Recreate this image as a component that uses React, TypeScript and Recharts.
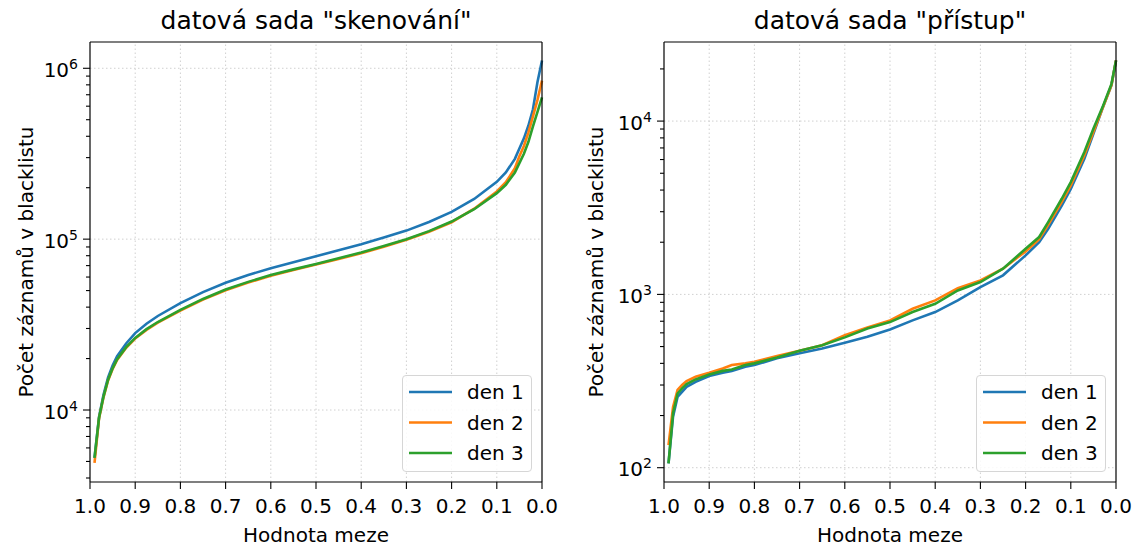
import React from 'react';
import { LineChart, Line, XAxis, YAxis, ReferenceLine } from 'recharts';

const FONT = '"DejaVu Sans", Verdana, sans-serif';

// ---------- data: dataset "skenování" ----------
const scanThresholds = [0.99, 0.98, 0.97, 0.96, 0.95, 0.94, 0.92, 0.9, 0.875, 0.85, 0.8, 0.75, 0.7, 0.65, 0.6, 0.55, 0.5, 0.45, 0.4, 0.35, 0.3, 0.25, 0.2, 0.15, 0.1, 0.08, 0.06, 0.05, 0.04, 0.03, 0.02, 0.01, 0.0];
const scanDay1 = [5250, 9100, 12300, 15500, 18200, 20650, 24500, 28200, 32000, 35500, 42200, 49000, 55600, 61700, 67600, 73300, 79400, 86100, 93300, 102300, 112200, 125900, 144500, 171800, 216300, 245500, 295100, 338800, 389000, 462400, 575400, 831800, 1109000];
const scanDay2 = [4900, 8930, 11910, 14890, 17380, 19630, 23120, 26180, 29440, 32430, 38190, 44260, 50230, 55720, 61090, 65920, 70960, 76560, 82790, 90360, 99080, 110400, 125600, 150700, 190100, 215300, 260000, 305500, 350800, 421700, 522400, 653100, 847200];
const scanDay3 = [5250, 9000, 12020, 15030, 17540, 19820, 23330, 26420, 29720, 32730, 38550, 44670, 50700, 56230, 61660, 66530, 71610, 77270, 83560, 91200, 100000, 111400, 126800, 149600, 185800, 208000, 245500, 278600, 316200, 371500, 457100, 555900, 676100];

// ---------- data: dataset "přístup" ----------
const accessThresholds = [0.99, 0.98, 0.97, 0.96, 0.95, 0.93, 0.9, 0.87, 0.85, 0.82, 0.8, 0.75, 0.7, 0.65, 0.6, 0.55, 0.5, 0.45, 0.4, 0.35, 0.3, 0.25, 0.2, 0.17, 0.15, 0.12, 0.1, 0.07, 0.05, 0.03, 0.01, 0.0];
const accessDay1 = [106, 197, 256, 274, 293, 313, 338, 353, 362, 382, 391, 428, 457, 488, 526, 569, 628, 708, 791, 923, 1102, 1288, 1679, 2004, 2394, 3258, 4064, 6066, 8454, 11800, 16100, 22400];
const accessDay2 = [135, 224, 281, 300, 316, 335, 353, 374, 391, 400, 408, 441, 473, 509, 582, 645, 708, 826, 923, 1086, 1205, 1407, 1771, 2080, 2523, 3420, 4253, 6343, 8650, 11800, 16100, 22400];
const accessDay3 = [106, 206, 268, 287, 304, 323, 345, 362, 369, 391, 400, 433, 473, 509, 565, 636, 692, 791, 883, 1054, 1178, 1407, 1834, 2143, 2612, 3563, 4446, 6627, 9030, 12000, 16400, 22400];

// ---------- ticks ----------
const xTicks = [0, 0.1, 0.2, 0.3, 0.4, 0.5, 0.6, 0.7, 0.8, 0.9, 1.0];
const scanMajor = [10000, 100000, 1000000];
const scanMinor = [4000, 5000, 6000, 7000, 8000, 9000, 20000, 30000, 40000, 50000, 60000, 70000, 80000, 90000, 200000, 300000, 400000, 500000, 600000, 700000, 800000, 900000];
const scanDomain = [3790, 1425000];
const accessMajor = [100, 1000, 10000];
const accessMinor = [200, 300, 400, 500, 600, 700, 800, 900, 2000, 3000, 4000, 5000, 6000, 7000, 8000, 9000, 20000];
const accessDomain = [82.7, 28600];

// ---------- labels ----------
const seriesNames = ['den 1', 'den 2', 'den 3'];
const seriesColors = ['#1f77b4', '#ff7f0e', '#2ca02c'];
const titles = ['datová sada "skenování"', 'datová sada "přístup"'];
const xLabel = 'Hodnota meze';
const yLabel = 'Počet záznamů v blacklistu';

function buildRows(ts: number[], a: number[], b: number[], c: number[]) {
  return ts.map((t, i) => ({ t, d1: a[i], d2: b[i], d3: c[i] }));
}
const scanData = buildRows(scanThresholds, scanDay1, scanDay2, scanDay3);
const accessData = buildRows(accessThresholds, accessDay1, accessDay2, accessDay3);

const TICK_FS = 20;
const TITLE_FS = 25;
const MAJOR_LEN = 7;
const MINOR_LEN = 4;

function LogTick(props: any) {
  const { x, y, payload, majors } = props;
  const v = payload.value;
  const isMajor = majors.indexOf(v) >= 0;
  const len = isMajor ? MAJOR_LEN : MINOR_LEN;
  const exp = Math.round(Math.log10(v));
  return (
    <g>
      <line x1={x - len} x2={x} y1={y} y2={y} stroke="#000" strokeWidth={1.1} />
      {isMajor && (
        <text x={x - MAJOR_LEN - 5} y={y + 8.5} textAnchor="end" fontFamily={FONT} fontSize={TICK_FS} fill="#000">
          <tspan>10</tspan>
          <tspan dy={-8} fontSize={14}>{String(exp)}</tspan>
        </text>
      )}
    </g>
  );
}

type PanelProps = {
  data: any[];
  domain: number[];
  majors: number[];
  minors: number[];
  width: number;
  mLeft: number;
  mRight: number;
};

function Panel({ data, domain, majors, minors, width, mLeft, mRight }: PanelProps) {
  const allTicks = [...minors, ...majors].sort((a, b) => a - b);
  return (
    <LineChart width={width} height={547} data={data} margin={{ top: 42, right: mRight, bottom: 15, left: mLeft }}>
      {xTicks.slice(1, -1).map((t) => (
        <ReferenceLine key={'vx' + t} x={t} stroke="#d0d0d0" strokeWidth={1} strokeDasharray="1.5 2.5" />
      ))}
      {majors.map((m) => (
        <ReferenceLine key={'hy' + m} y={m} stroke="#d0d0d0" strokeWidth={1} strokeDasharray="1.5 2.5" />
      ))}
      <XAxis
        dataKey="t"
        type="number"
        domain={[0, 1]}
        reversed
        ticks={xTicks}
        interval={0}
        tickFormatter={(v: number) => v.toFixed(1)}
        height={50}
        tickSize={MAJOR_LEN}
        tickMargin={10}
        tick={{ fill: '#000', fontSize: TICK_FS, fontFamily: FONT }}
        tickLine={{ stroke: '#000', strokeWidth: 1.1 }}
        axisLine={{ stroke: '#000', strokeWidth: 1.2 }}
      />
      <YAxis
        type="number"
        scale="log"
        domain={domain}
        allowDataOverflow
        ticks={allTicks}
        interval={0}
        width={60}
        tickSize={0}
        tickMargin={0}
        tickLine={false}
        tick={(p: any) => <LogTick {...p} majors={majors} />}
        axisLine={{ stroke: '#000', strokeWidth: 1.2 }}
      />
      {['d1', 'd2', 'd3'].map((k, i) => (
        <Line
          key={k}
          dataKey={k}
          name={seriesNames[i]}
          stroke={seriesColors[i]}
          strokeWidth={2.6}
          dot={false}
          type="linear"
          isAnimationActive={false}
        />
      ))}
      <ReferenceLine x={0} stroke="#000" strokeWidth={1.2} />
      <ReferenceLine y={domain[1]} stroke="#000" strokeWidth={1.2} />
    </LineChart>
  );
}

function LegendBox({ left, top }: { left: number; top: number }) {
  return (
    <div
      style={{
        position: 'absolute',
        left,
        top,
        width: 130,
        height: 97,
        boxSizing: 'border-box',
        border: '1px solid #d6d6d6',
        borderRadius: 4,
        background: 'rgba(255,255,255,0.85)',
      }}
    >
      <svg width={128} height={95} style={{ position: 'absolute', left: 0, top: 0 }}>
        {seriesNames.map((n, i) => (
          <g key={n}>
            <line x1={6} x2={49} y1={16 + i * 30.5} y2={16 + i * 30.5} stroke={seriesColors[i]} strokeWidth={2.6} />
            <text x={64} y={16 + i * 30.5 + 7} fontFamily={FONT} fontSize={TICK_FS} fill="#000">
              {n}
            </text>
          </g>
        ))}
      </svg>
    </div>
  );
}

export default function App() {
  return (
    <div style={{ position: 'absolute', left: 0, top: 0, width: 1138, height: 547, background: '#fff', fontFamily: FONT }}>
      <div style={{ position: 'absolute', left: 0, top: 0 }}>
        <Panel data={scanData} domain={scanDomain} majors={scanMajor} minors={scanMinor} width={570} mLeft={30} mRight={28} />
      </div>
      <div style={{ position: 'absolute', left: 570, top: 0 }}>
        <Panel data={accessData} domain={accessDomain} majors={accessMajor} minors={accessMinor} width={568} mLeft={34} mRight={22} />
      </div>
      <svg width={1138} height={547} style={{ position: 'absolute', left: 0, top: 0, pointerEvents: 'none' }}>
        <text x={316} y={29} textAnchor="middle" fontFamily={FONT} fontSize={TITLE_FS} fill="#000">{titles[0]}</text>
        <text x={890} y={29} textAnchor="middle" fontFamily={FONT} fontSize={TITLE_FS} fill="#000">{titles[1]}</text>
        <text x={316} y={542} textAnchor="middle" fontFamily={FONT} fontSize={TICK_FS} fill="#000">{xLabel}</text>
        <text x={890} y={542} textAnchor="middle" fontFamily={FONT} fontSize={TICK_FS} fill="#000">{xLabel}</text>
        <text transform="translate(33,262) rotate(-90)" textAnchor="middle" fontFamily={FONT} fontSize={TICK_FS} fill="#000">{yLabel}</text>
        <text transform="translate(603,262) rotate(-90)" textAnchor="middle" fontFamily={FONT} fontSize={TICK_FS} fill="#000">{yLabel}</text>
      </svg>
      <LegendBox left={402} top={375} />
      <LegendBox left={976} top={375} />
    </div>
  );
}
